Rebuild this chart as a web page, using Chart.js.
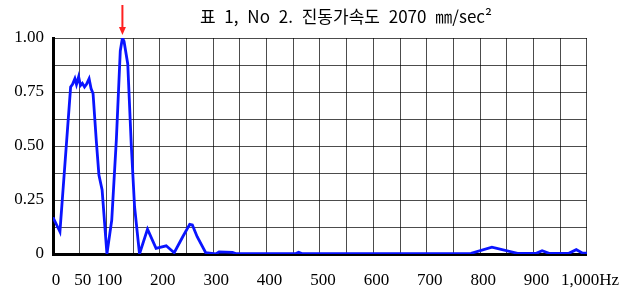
<!DOCTYPE html>
<html>
<head>
<meta charset="utf-8">
<script src="https://cdn.jsdelivr.net/npm/chart.js@4"></script>
<style>
  html, body { margin: 0; padding: 0; background: #fff; }
  #wrap { width: 632px; height: 290px; position: relative; }
</style>
</head>
<body>
<div id="wrap"><canvas id="chartVib"></canvas></div>
<script>
// Data
const TITLE = '표 1, No 2. 진동가속도 2070 ㎜/sec²';
const freqs = [0, 13, 33, 36.6, 41, 44, 48, 51.5, 55, 59, 62.7, 67.6, 71.3, 75, 81, 86, 92, 101,
    110, 118.6, 126, 130, 133, 140, 146.5, 152.7, 162, 177, 193, 212, 227, 243, 256, 261, 270, 286,
    305, 311, 336, 342, 455, 460, 466, 783, 822, 870, 905, 916, 929, 966, 980, 992, 1000];
const amps = [0.17, 0.103, 0.773, 0.786, 0.812, 0.785, 0.82, 0.78, 0.79, 0.773, 0.786, 0.812, 0.766, 0.743, 0.527, 0.365, 0.296, 0,
    0.157, 0.527, 0.94, 1.0, 0.985, 0.88, 0.51, 0.22, 0, 0.115, 0.026, 0.038, 0.006, 0.08, 0.137, 0.134, 0.08, 0.006,
    0, 0.01, 0.008, 0.002, 0.002, 0.008, 0.002, 0.003, 0.032, 0.003, 0.003, 0.015, 0.003, 0.003, 0.02, 0.004, 0.004];
const xLabels = { 0: '0', 50: '50', 100: '100', 200: '200', 300: '300', 400: '400', 500: '500',
    600: '600', 700: '700', 800: '800', 900: '900', 1000: '1,000Hz' };
const yLabels = { 1: '1.00', 0.75: '0.75', 0.5: '0.50', 0.25: '0.25', 0: '0' };

const TICK_FONT = { family: "'Liberation Serif', serif", size: 17 };

// Title + red arrow over the peak
const overlayPlugin = {
    id: 'overlay',
    afterDraw(chart) {
        const ctx = chart.ctx;
        const area = chart.chartArea;
        ctx.save();
        ctx.fillStyle = '#000';
        ctx.font = "17px 'Noto Sans CJK KR', sans-serif";
        ctx.textAlign = 'right';
        ctx.textBaseline = 'middle';
        if ('wordSpacing' in ctx) ctx.wordSpacing = '5px';
        ctx.fillText(TITLE, area.right - 95, 17);

        // arrow at the highest point
        let peak = 0;
        amps.forEach((v, i) => { if (v > amps[peak]) peak = i; });
        const px = chart.scales.x.getPixelForValue(freqs[peak]);
        const tip = chart.scales.y.getPixelForValue(amps[peak]) - 3;
        ctx.strokeStyle = '#ff2020';
        ctx.fillStyle = '#ff2020';
        ctx.lineWidth = 2;
        ctx.beginPath();
        ctx.moveTo(px, 5);
        ctx.lineTo(px, tip - 6);
        ctx.stroke();
        ctx.beginPath();
        ctx.moveTo(px - 3.5, tip - 8);
        ctx.lineTo(px + 3.5, tip - 8);
        ctx.lineTo(px, tip);
        ctx.closePath();
        ctx.fill();
        ctx.restore();
    }
};

function initChart() {
    const ctx = document.getElementById('chartVib').getContext('2d');
    return new Chart(ctx, {
        type: 'line',
        data: {
            datasets: [{
                data: freqs.map((f, i) => ({ x: f, y: amps[i] })),
                borderColor: '#0a14ff',
                borderWidth: 2.8,
                pointRadius: 0,
                tension: 0,
                fill: false
            }]
        },
        options: {
            responsive: true,
            maintainAspectRatio: false,
            animation: false,
            layout: { padding: { top: 38, right: 42, left: 0, bottom: 0 } },
            plugins: { legend: { display: false }, tooltip: { enabled: false } },
            scales: {
                x: {
                    type: 'linear',
                    min: 0, max: 1000,
                    afterFit: s => { s.height = 36; },
                    grid: { color: 'rgba(0,0,0,0.7)', lineWidth: 1, drawTicks: false },
                    border: { color: '#000', width: 3 },
                    ticks: {
                        stepSize: 50,
                        autoSkip: false,
                        maxRotation: 0,
                        padding: 16,
                        labelOffset: 3,
                        color: '#000',
                        font: TICK_FONT,
                        callback: v => xLabels[v] !== undefined ? xLabels[v] : ''
                    }
                },
                y: {
                    min: 0, max: 1,
                    afterFit: s => { s.width = 53; },
                    grid: { color: 'rgba(0,0,0,0.7)', lineWidth: 1, drawTicks: false },
                    border: { color: '#000', width: 3 },
                    ticks: {
                        stepSize: 0.125,
                        autoSkip: false,
                        padding: 9,
                        color: '#000',
                        font: TICK_FONT,
                        callback: v => yLabels[v] !== undefined ? yLabels[v] : ''
                    }
                }
            }
        },
        plugins: [overlayPlugin]
    });
}

initChart();
</script>
</body>
</html>
